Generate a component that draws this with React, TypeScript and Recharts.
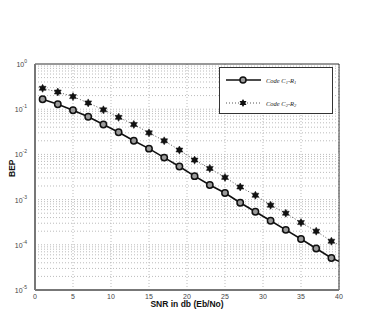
import React from 'react';
import { LineChart, Line, XAxis, YAxis, CartesianGrid, ReferenceArea, ReferenceLine } from 'recharts';

const snr = [1, 3, 5, 7, 9, 11, 13, 15, 17, 19, 21, 23, 25, 27, 29, 31, 33, 35, 37, 39, 40];
const bepC1R1 = [
  0.166, 0.129, 0.095, 0.068, 0.046, 0.031, 0.02, 0.0134, 0.0085, 0.0054, 0.0033, 0.0021, 0.0014, 0.00085,
  0.00054, 0.00034, 0.000214, 0.000134, 0.000083, 0.000051, 0.000043,
];
const bepC2R2 = [
  0.29, 0.24, 0.19, 0.138, 0.097, 0.066, 0.046, 0.03, 0.02, 0.0125, 0.0075, 0.0049, 0.0031, 0.0019,
  0.00125, 0.00075, 0.0005, 0.00031, 0.0002, 0.00012, 0.0001,
];
const xTicks = [0, 5, 10, 15, 20, 25, 30, 35, 40];
const yTicks = [1, 0.1, 0.01, 0.001, 0.0001, 0.00001];

const data = snr.map((x, i) => ({ snr: x, c1: bepC1R1[i], c2: bepC2R2[i] }));

// log grid lines: 1..9 in every decade
const yGrid: number[] = [];
for (let d = -5; d < 0; d++) {
  for (let m = 1; m <= 9; m++) yGrid.push(m * Math.pow(10, d));
}

const sansFont = '"Liberation Sans", Arial, sans-serif';
const serifFont = '"Liberation Serif", "Times New Roman", serif';

const YTick = (props: any) => {
  const { x, y, payload } = props;
  const exp = Math.round(Math.log10(payload.value));
  return (
    <text x={x} y={y + 3} textAnchor="end" fontSize={7} fill="#444" fontFamily={sansFont}>
      <tspan>10</tspan>
      <tspan dy={-4} fontSize={5}>{exp}</tspan>
    </text>
  );
};

const XTick = (props: any) => {
  const { x, y, payload } = props;
  return (
    <text x={x} y={y + 1} textAnchor="middle" fontSize={7} fill="#444" fontFamily={sansFont}>
      {payload.value}
    </text>
  );
};

const CircleDot = (props: any) => {
  const { cx, cy, payload } = props;
  if (payload.snr === 40 || cx == null) return null;
  return <circle key={payload.snr} cx={cx} cy={cy} r={3.2} fill="#9a9a9a" stroke="#111" strokeWidth={1.5} />;
};

const starPoints = (cx: number, cy: number, R: number) => {
  const r = R / Math.sqrt(3);
  const pts: string[] = [];
  for (let i = 0; i < 12; i++) {
    const a = -Math.PI / 2 + (i * Math.PI) / 6;
    const rad = i % 2 === 0 ? R : r;
    pts.push(`${cx + rad * Math.cos(a)},${cy + rad * Math.sin(a)}`);
  }
  return pts.join(' ');
};

const StarDot = (props: any) => {
  const { cx, cy, payload } = props;
  if (payload.snr === 40 || cx == null) return null;
  return <polygon key={payload.snr} points={starPoints(cx, cy, 4)} fill="#111" stroke="#111" strokeWidth={0.5} />;
};

function LegendBox() {
  return (
    <div
      style={{
        position: 'absolute',
        left: 219,
        top: 67,
        width: 114,
        height: 47,
        border: '1px solid #333',
        background: '#fff',
        boxSizing: 'border-box',
      }}
    >
      <svg width={112} height={45} style={{ display: 'block' }}>
        <line x1={6} y1={12} x2={41} y2={12} stroke="#111" strokeWidth={1.6} />
        <circle cx={23} cy={12} r={3} fill="#9a9a9a" stroke="#111" strokeWidth={1.5} />
        <text x={46} y={14.5} fontSize={6.5} fontStyle="italic" fontFamily={serifFont} fill="#222">
          Code C<tspan dy={1.5} fontSize={4.5}>1</tspan>
          <tspan dy={-1.5}>-R</tspan>
          <tspan dy={1.5} fontSize={4.5}>1</tspan>
        </text>
        <line x1={6} y1={35} x2={41} y2={35} stroke="#555" strokeWidth={1} strokeDasharray="1 2" />
        <polygon points={starPoints(23, 35, 4)} fill="#111" />
        <text x={46} y={37.5} fontSize={6.5} fontStyle="italic" fontFamily={serifFont} fill="#222">
          Code C<tspan dy={1.5} fontSize={4.5}>2</tspan>
          <tspan dy={-1.5}>-R</tspan>
          <tspan dy={1.5} fontSize={4.5}>2</tspan>
        </text>
      </svg>
    </div>
  );
}

export default function App() {
  return (
    <div style={{ position: 'absolute', left: 0, top: 0, width: 368, height: 321, background: '#fff' }}>
      <LineChart width={368} height={321} data={data} margin={{ top: 64, right: 29, bottom: 0, left: 0 }}>
        <CartesianGrid stroke="#bbb" strokeDasharray="1 2" horizontal={false} />
        {yGrid.map((v) => (
          <ReferenceLine key={v} y={v} stroke="#bbb" strokeDasharray="1 2" strokeWidth={1} />
        ))}
        <XAxis
          dataKey="snr"
          type="number"
          domain={[0, 40]}
          ticks={xTicks}
          height={31}
          tickLine={false}
          stroke="#777"
          strokeWidth={2}
          tick={<XTick />}
          label={{
            value: 'SNR in db (Eb/No)',
            position: 'insideBottom',
            offset: 14,
            fontSize: 8.5,
            fontWeight: 'bold',
            fill: '#111',
            fontFamily: sansFont,
          }}
        />
        <YAxis
          type="number"
          scale="log"
          domain={[0.00001, 1]}
          ticks={yTicks}
          width={35}
          tickLine={false}
          stroke="#777"
          strokeWidth={2}
          tick={<YTick />}
          allowDataOverflow
          label={{
            value: 'BEP',
            angle: -90,
            position: 'insideLeft',
            offset: 12,
            fontSize: 8.5,
            fontWeight: 'bold',
            fill: '#111',
            fontFamily: sansFont,
          }}
        />
        <ReferenceArea x1={0} x2={40} y1={0.00001} y2={1} fill="none" stroke="#333" strokeWidth={1} />
        <Line
          dataKey="c2"
          stroke="#555"
          strokeWidth={1}
          strokeDasharray="1 2"
          dot={<StarDot />}
          activeDot={false}
          isAnimationActive={false}
        />
        <Line
          dataKey="c1"
          stroke="#111"
          strokeWidth={1.6}
          dot={<CircleDot />}
          activeDot={false}
          isAnimationActive={false}
        />
      </LineChart>
      <LegendBox />
    </div>
  );
}
